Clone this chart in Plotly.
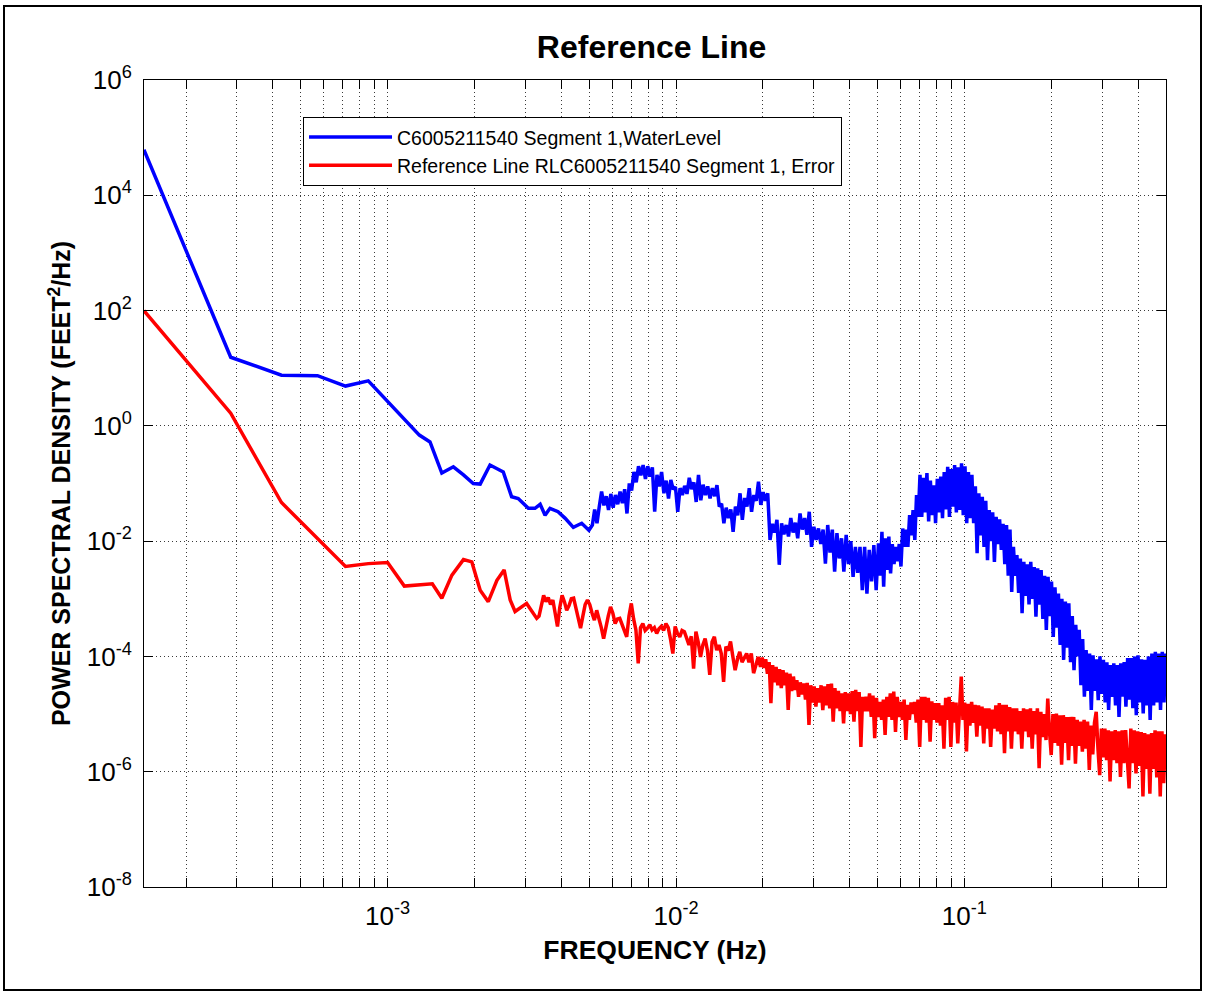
import numpy as np
import plotly.graph_objects as go

# Spectra are stored as base-10 exponents: frequency in Hz, PSD in FEET^2/Hz.

# ---- Water-level segment spectrum ----
# low-frequency bins, listed individually
wl_low_freq_exp = [
    -3.845, -3.544, -3.368, -3.243, -3.146, -3.067, -2.890, -2.853, -2.812, -2.772,
    -2.737, -2.703, -2.679, -2.645, -2.599, -2.570, -2.547, -2.512, -2.489, -2.471,
    -2.454, -2.437, -2.409, -2.385, -2.356, -2.327, -2.302,
]
wl_low_psd_exp = [
    4.79, 1.19, 0.88, 0.87, 0.69, 0.78, -0.16, -0.28, -0.82, -0.71,
    -0.85, -1.00, -1.01, -0.68, -0.80, -1.23, -1.26, -1.43, -1.43, -1.36,
    -1.55, -1.43, -1.49, -1.60, -1.76, -1.69, -1.81,
]
# noisy band, read on a log-frequency grid: start exponent, step, values
wl_band1_start, wl_band1_step = -2.290, 0.008
wl_band1_psd_exp = [
    -1.72, -1.45, -1.69, -1.40, -1.14, -1.38, -1.22, -1.46, -1.18, -1.42,
    -1.20, -1.36, -1.14, -1.34, -1.10, -1.52, -1.00, -1.12, -0.80, -0.98,
    -0.70, -0.86, -0.68, -0.92, -0.70, -0.88, -0.72, -1.49, -0.85, -1.05,
    -0.80, -1.17, -0.95, -1.26, -0.94, -1.10, -1.06, -1.49, -1.08, -1.20,
    -1.04, -1.18, -0.90, -1.10, -0.98, -1.32, -0.85, -1.29, -1.02, -1.20,
    -1.05, -1.26, -1.08, -1.22, -1.03, -1.40, -1.35, -1.69, -1.42, -1.60,
    -1.45, -1.84, -1.40, -1.55, -1.17, -1.63, -1.25, -1.40, -1.08, -1.49,
    -1.20, -1.30, -0.97, -1.37, -1.15, -1.30, -1.17, -1.98, -1.70, -1.85,
    -1.63, -2.41, -1.69, -1.88, -1.72, -1.92, -1.60, -1.85, -1.68, -1.95,
    -1.52, -1.80, -1.60, -1.89, -1.49, -2.10, -1.75, -1.98, -1.78, -2.05,
    -1.80, -2.39, -1.72, -2.20, -1.80, -2.53, -1.86, -2.30, -1.95, -2.53,
    -1.89, -2.40, -2.00, -2.62, -2.10, -2.55, -2.10, -2.85, -2.10, -2.91,
    -2.15, -2.70, -2.07, -2.85, -2.04,
]
wl_band2_start, wl_band2_step = -1.292, 0.006
wl_band2_psd_exp = [
    -2.60, -1.84, -2.79, -1.95, -2.50, -1.92, -2.56, -2.05, -2.40, -2.10,
    -2.35, -2.05, -2.44, -1.78, -2.10, -1.80, -2.10, -1.55, -1.90, -1.46,
    -1.98, -1.20, -1.58, -0.85, -1.58, -0.90, -1.50, -0.82, -1.66, -0.95,
    -1.55, -1.03, -1.69, -0.92, -1.50, -0.88, -1.60, -0.80, -1.45, -0.71,
    -1.58, -0.75, -1.40, -0.68, -1.50, -0.72, -1.46, -0.65, -1.55, -0.70,
    -1.69, -0.80, -1.60, -0.85, -1.69, -1.05, -2.21, -1.17, -1.90, -1.23,
    -2.10, -1.30, -2.33, -1.46, -2.00, -1.50, -2.36, -1.58, -2.05, -1.62,
    -2.15, -1.70, -2.40, -1.72, -2.60, -1.80, -2.88, -2.10, -2.60, -2.24,
    -2.90, -2.30, -3.25, -2.36, -2.95, -2.40, -3.10, -2.36, -3.00, -2.45,
    -3.31, -2.47, -3.10, -2.50, -3.35, -2.60, -3.54, -2.62, -3.30, -2.70,
    -3.66, -2.80, -3.50, -2.91, -3.80, -3.00, -4.06, -3.05, -3.85, -3.08,
    -4.10, -3.30, -4.24, -3.45, -4.00, -3.54, -4.50, -3.70, -4.70, -3.89,
    -4.60, -3.95, -4.93, -3.98, -4.60, -4.05, -4.76, -4.00, -4.65, -4.06,
    -4.80, -4.10, -4.93, -4.15, -4.70, -4.12, -4.85, -4.15, -5.05, -4.12,
    -4.70, -4.10, -4.87, -4.03, -4.75, -4.03, -4.90, -4.00, -5.02, -3.98,
    -4.80, -4.05, -4.99, -4.06, -4.85, -4.00, -5.10, -3.95, -4.85, -3.92,
    -4.80, -3.95, -4.93, -3.92, -4.80, -3.95,
]

# ---- Reference-line error spectrum ----
ref_low_freq_exp = [
    -3.845, -3.544, -3.368, -3.146, -3.067, -3.000, -2.942, -2.845, -2.812, -2.777,
    -2.737, -2.708, -2.679, -2.651, -2.621, -2.596, -2.575, -2.558, -2.518, -2.483,
]
ref_low_psd_exp = [
    2.00, 0.22, -1.33, -2.44, -2.39, -2.37, -2.78, -2.74, -2.99, -2.59,
    -2.32, -2.36, -2.85, -3.05, -2.68, -2.50, -3.02, -3.22, -3.08, -3.34,
]
ref_band1_start, ref_band1_step = -2.475, 0.008
ref_band1_psd_exp = [
    -3.30, -3.10, -2.94, -3.05, -2.98, -3.10, -3.02, -3.25, -3.48, -3.15,
    -2.94, -3.05, -3.20, -3.12, -3.00, -2.99, -3.15, -3.30, -3.51, -3.30,
    -3.10, -3.02, -3.10, -3.25, -3.37, -3.20, -3.34, -3.50, -3.69, -3.45,
    -3.30, -3.14, -3.25, -3.43, -3.35, -3.34, -3.45, -3.58, -3.66, -3.30,
    -3.08, -3.35, -3.54, -4.12, -3.50, -3.43, -3.55, -3.51, -3.45, -3.54,
    -3.50, -3.60, -3.52, -3.48, -3.55, -3.43, -3.50, -3.70, -3.95, -3.48,
    -3.60, -3.66, -3.55, -3.57, -3.70, -3.80, -3.65, -4.21, -3.57, -3.75,
    -4.01, -3.80, -3.69, -3.90, -4.32, -3.75, -3.66, -3.89, -3.80, -3.95,
    -4.44, -3.83, -3.90, -3.74, -4.00, -4.24, -4.05, -3.92, -4.10, -4.03,
    -3.95, -4.10, -3.95, -4.29, -4.15, -4.01, -4.18,
]
ref_band2_start, ref_band2_step = -1.701, 0.006
ref_band2_psd_exp = [
    -4.02, -4.20, -4.05, -4.30, -4.10, -4.81, -4.15, -4.45, -4.18, -4.50,
    -4.22, -4.55, -4.24, -4.50, -4.28, -4.93, -4.30, -4.60, -4.35, -4.58,
    -4.41, -4.70, -4.45, -4.66, -4.47, -4.75, -4.46, -5.19, -4.50, -4.80,
    -4.52, -4.87, -4.55, -4.80, -4.50, -4.93, -4.52, -4.85, -4.48, -4.90,
    -4.47, -5.13, -4.55, -4.90, -4.60, -4.95, -4.64, -5.16, -4.62, -4.95,
    -4.64, -5.00, -4.60, -5.13, -4.58, -4.95, -4.62, -5.57, -4.70, -4.95,
    -4.70, -4.95, -4.64, -5.05, -4.68, -5.42, -4.72, -5.05, -4.79, -5.10,
    -4.75, -5.36, -4.70, -5.05, -4.64, -5.10, -4.61, -5.31, -4.70, -5.05,
    -4.79, -5.10, -4.75, -5.45, -4.84, -5.10, -4.80, -5.00, -4.79, -5.15,
    -4.75, -5.57, -4.70, -5.10, -4.70, -5.15, -4.72, -5.48, -4.78, -5.10,
    -4.81, -5.15, -4.81, -5.20, -4.85, -5.60, -4.72, -5.10, -4.70, -5.57,
    -4.79, -5.15, -4.80, -5.51, -4.75, -4.35, -5.10, -4.80, -5.65, -4.82,
    -5.20, -4.79, -5.15, -4.84, -5.39, -4.85, -5.20, -4.87, -5.51, -4.90,
    -5.25, -4.90, -5.57, -4.92, -5.25, -4.85, -5.30, -4.81, -5.35, -4.84,
    -5.68, -4.84, -5.30, -4.88, -5.60, -4.90, -5.30, -4.90, -5.35, -4.95,
    -5.60, -4.90, -5.30, -4.92, -5.40, -4.90, -5.60, -4.95, -5.35, -4.90,
    -5.94, -4.96, -5.40, -5.00, -5.45, -4.73, -5.30, -5.71, -5.00, -5.50,
    -4.99, -5.55, -5.02, -5.88, -5.02, -5.50, -5.05, -5.80, -5.05, -5.55,
    -5.05, -5.86, -5.10, -5.55, -5.13, -5.65, -5.10, -5.60, -5.13, -5.97,
    -5.20, -5.70, -5.15, -4.96, -5.60, -6.06, -5.25, -5.75, -5.25, -5.80,
    -5.28, -6.17, -5.30, -5.80, -5.28, -5.85, -5.30, -6.09, -5.28, -5.85,
    -5.28, -5.90, -6.29, -5.25, -5.85, -5.28, -6.03, -5.30, -5.90, -5.31,
    -6.43, -5.33, -5.95, -5.35, -6.38, -5.33, -5.95, -5.28, -6.10, -5.30,
    -6.43, -5.30, -6.20, -5.35,
]

series_names = [
    "C6005211540 Segment 1,WaterLevel",
    "Reference Line RLC6005211540 Segment 1, Error",
]
series_colors = ["#0000FF", "#FF0000"]

freq_limits = [1.43e-4, 0.5]
psd_limits = [1e-8, 1e6]
x_major = [1e-3, 1e-2, 1e-1]
y_major = [1e-8, 1e-6, 1e-4, 1e-2, 1e0, 1e2, 1e4, 1e6]


def band_freq_exp(start, step, values):
    return [start + step * i for i in range(len(values))]


def assemble(low_f, low_p, bands):
    f = list(low_f)
    p = list(low_p)
    for start, step, vals in bands:
        f += band_freq_exp(start, step, vals)
        p += list(vals)
    return 10.0 ** np.array(f), 10.0 ** np.array(p)


wl_freq, wl_psd = assemble(wl_low_freq_exp, wl_low_psd_exp, [
    (wl_band1_start, wl_band1_step, wl_band1_psd_exp),
    (wl_band2_start, wl_band2_step, wl_band2_psd_exp),
])
ref_freq, ref_psd = assemble(ref_low_freq_exp, ref_low_psd_exp, [
    (ref_band1_start, ref_band1_step, ref_band1_psd_exp),
    (ref_band2_start, ref_band2_step, ref_band2_psd_exp),
])


def power_label(v):
    return "10<sup>%d</sup>" % int(round(np.log10(v)))


x_minor = [m * 10.0 ** e for e in range(-4, 0) for m in range(2, 10)
           if freq_limits[0] < m * 10.0 ** e < freq_limits[1]]

FONT = "Liberation Sans, Arial, sans-serif"
GRID = dict(showgrid=True, gridcolor="#3a3a3a", gridwidth=1, griddash="1px,3px")

fig = go.Figure()
for fx, py, name, color in [
    (wl_freq, wl_psd, series_names[0], series_colors[0]),
    (ref_freq, ref_psd, series_names[1], series_colors[1]),
]:
    fig.add_trace(go.Scatter(
        x=fx, y=py, mode="lines", name=name,
        line=dict(color=color, width=3.5), legendgroup=name,
    ))

fig.update_layout(
    width=1205, height=993,
    margin=dict(l=144, r=39, t=80, b=106),
    paper_bgcolor="white", plot_bgcolor="white",
    font=dict(family=FONT, color="black"),
    title=dict(text="Reference Line", x=0.4966, xref="paper", xanchor="center",
               y=1 - 47 / 993, yref="container", yanchor="middle",
               font=dict(family=FONT, size=32, weight="bold", color="black")),
    showlegend=True,
    legend=dict(x=0.1556, y=0.9545, xanchor="left", yanchor="top",
                bgcolor="white", bordercolor="black", borderwidth=1,
                font=dict(family=FONT, size=19.5, color="black"),
                itemwidth=83, traceorder="grouped", tracegroupgap=0),
    xaxis=dict(
        type="log", range=[np.log10(freq_limits[0]), np.log10(freq_limits[1])],
        tickmode="array", tickvals=x_major, ticktext=[power_label(v) for v in x_major],
        ticks="inside", ticklen=9, tickcolor="black", tickwidth=1,
        showline=True, linecolor="black", linewidth=1, mirror="ticks", zeroline=False,
        tickfont=dict(family=FONT, size=26, color="black"), ticklabelstandoff=6,
        minor=dict(tickmode="array", tickvals=x_minor, ticks="inside", ticklen=9,
                   tickcolor="black", **GRID),
        title=dict(text="FREQUENCY (Hz)", standoff=10,
                   font=dict(family=FONT, size=26.5, weight="bold", color="black")),
        **GRID,
    ),
    yaxis=dict(
        type="log", range=[np.log10(psd_limits[0]), np.log10(psd_limits[1])],
        tickmode="array", tickvals=y_major, ticktext=[power_label(v) for v in y_major],
        ticks="inside", ticklen=9, tickcolor="black", tickwidth=1,
        showline=True, linecolor="black", linewidth=1, mirror="ticks", zeroline=False,
        tickfont=dict(family=FONT, size=26, color="black"), ticklabelstandoff=6,
        title=dict(text="POWER SPECTRAL DENSITY (FEET<sup>2</sup>/Hz)", standoff=8,
                   font=dict(family=FONT, size=25, weight="bold", color="black")),
        **GRID,
    ),
    shapes=[dict(type="rect", xref="paper", yref="paper",
                 x0=(4 - 144) / 1022, x1=(1201 - 144) / 1022,
                 y0=(887 - 990) / 807, y1=(887 - 6) / 807,
                 line=dict(color="black", width=2), layer="below")],
)

fig.write_html("out.html")
